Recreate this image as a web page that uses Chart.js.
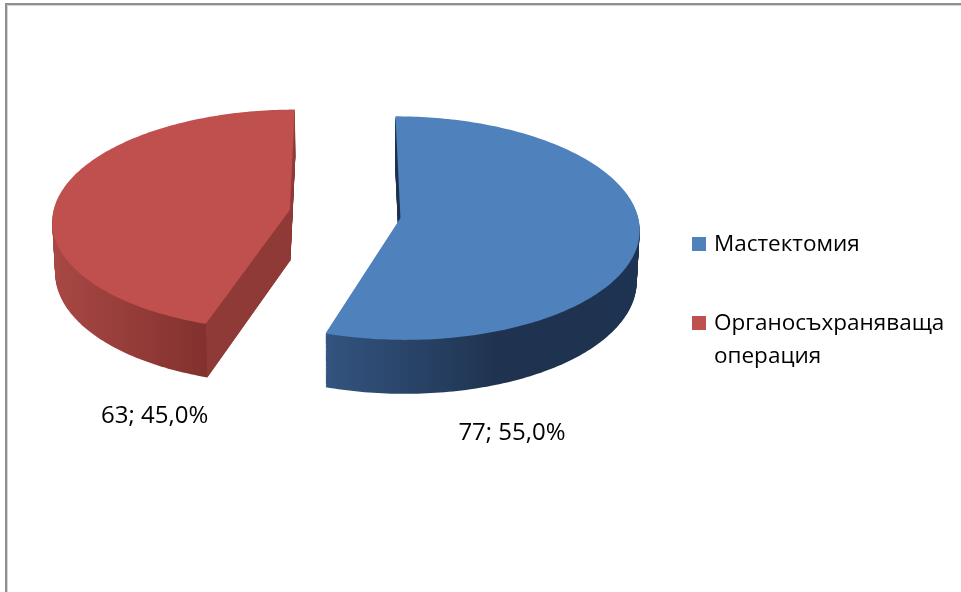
<!DOCTYPE html>
<html>
<head>
<meta charset="utf-8">
<script src="https://cdn.jsdelivr.net/npm/chart.js@4.4.1/dist/chart.umd.min.js"></script>
<style>
  html, body { margin: 0; padding: 0; background: #fff; overflow: hidden; }
  #frame {
    position: absolute; left: 5px; top: 3px; width: 2000px; height: 2000px;
    border-left: 2px solid #8f8f8f; border-top: 2px solid #8f8f8f;
    box-shadow: inset 1px 1px 0 #d4d4d4;
  }
  #wrap { position: absolute; left: 0; top: 0; width: 961px; height: 592px; }
</style>
</head>
<body>
<div id="frame"></div>
<div id="wrap"><canvas id="pieChart" width="961" height="592"></canvas></div>
<script>
// data
const categories = ['Мастектомия', 'Органосъхраняваща операция'];
const counts = [77, 63];

// look
const topColors = ['#4f81bd', '#c0504d'];
const wallColors = [
  [[0, '#33547f'], [0.55, '#1f3350'], [1, '#1e3351']],
  [[0, '#a94845'], [1, '#82312e']]
];
const faceColors = ['#1c304d', '#903a38'];

// fake 3d: the arcs chart.js lays out get tilted, exploded and extruded
const pie3d = {
  id: 'pie3d',
  beforeDatasetsDraw(chart, args, o) {
    const ctx = chart.ctx;
    const arcs = chart.getDatasetMeta(0).data;
    const k = o.tilt, D = o.depth, a = o.persp, b = o.sink;
    chart.$pie3d = [];

    arcs.forEach((el, i) => {
      const p = el.getProps(['x', 'y', 'startAngle', 'endAngle', 'outerRadius'], true);
      const r = p.outerRadius, s = p.startAngle, e = p.endAngle;
      const mid = (s + e) / 2;
      const au = Math.cos(mid) * o.explode, av = Math.sin(mid) * o.explode;
      // u,v = position in the pie plane, h = 0 top .. 1 bottom
      const proj = (u, v, h) => {
        const sc = (1 + a * v / r) * (1 - b * h);
        return [p.x + u * sc, p.y + (v * k + h * D) * sc];
      };
      const rim = (t, h) => proj(au + r * Math.cos(t), av + r * Math.sin(t), h);
      const n = Math.max(8, Math.ceil((e - s) / (Math.PI / 180)));
      const wedge = (h) => {
        ctx.beginPath();
        ctx.moveTo(...proj(au, av, h));
        for (let j = 0; j <= n; j++) ctx.lineTo(...rim(s + (e - s) * j / n, h));
        ctx.closePath();
      };
      chart.$pie3d.push({ wedge, rim });

      // side wall, colour runs left to right over the front rim
      let x0 = Infinity, x1 = -Infinity;
      for (let j = 0; j <= n; j++) {
        const t = s + (e - s) * j / n;
        if (Math.sin(t) < 0) continue;
        const x = rim(t, 0)[0];
        x0 = Math.min(x0, x); x1 = Math.max(x1, x);
      }
      if (x1 > x0) {
        const g = ctx.createLinearGradient(x0, 0, x1, 0);
        wallColors[i].forEach(([f, c]) => g.addColorStop(f, c));
        ctx.fillStyle = g;
        for (let l = D; l >= 1; l--) { wedge(l / D); ctx.fill(); }
      }

      // cut faces turned towards the viewer
      [[s, -1], [e, 1]].forEach(([t, sign]) => {
        const q = [proj(au, av, 0), rim(t, 0), rim(t, 1), proj(au, av, 1)];
        let area = 0;
        for (let j = 0; j < 4; j++) {
          const [xa, ya] = q[j], [xb, yb] = q[(j + 1) % 4];
          area += xa * yb - xb * ya;
        }
        if (area * sign <= 0) return;
        ctx.beginPath();
        q.forEach((pt, j) => j ? ctx.lineTo(...pt) : ctx.moveTo(...pt));
        ctx.closePath();
        ctx.fillStyle = faceColors[i];
        ctx.fill();
      });
    });

    // top faces
    chart.$pie3d.forEach((g, i) => {
      g.wedge(0);
      ctx.fillStyle = topColors[i];
      ctx.fill();
    });
    return false;
  },
  afterDraw(chart, args, o) {
    const ctx = chart.ctx;
    const data = chart.data.datasets[0].data;
    const total = data.reduce((x, y) => x + y, 0);
    ctx.save();
    ctx.fillStyle = '#000';

    // data labels under the slices
    ctx.font = o.labelFont;
    ctx.textAlign = 'center';
    ctx.textBaseline = 'alphabetic';
    data.forEach((v, i) => {
      const t = (o.labelAngles[i] - 90) * Math.PI / 180;
      const [x, y] = chart.$pie3d[i].rim(t, 1);
      const pct = (v / total * 100).toFixed(1).replace('.', ',');
      ctx.fillText(v + '; ' + pct + '%', x, y + o.labelGap);
    });

    // legend
    const L = o.legend;
    ctx.font = L.font;
    ctx.textAlign = 'left';
    let y = L.top;
    chart.data.labels.forEach((lab, i) => {
      const lines = [];
      let cur = '';
      lab.split(' ').forEach(w => {
        const test = cur ? cur + ' ' + w : w;
        if (cur && ctx.measureText(test).width > L.maxWidth) { lines.push(cur); cur = w; }
        else cur = test;
      });
      lines.push(cur);
      ctx.fillStyle = topColors[i];
      ctx.fillRect(L.x, y - L.box, L.box, L.box);
      ctx.fillStyle = '#000';
      lines.forEach((ln, j) => ctx.fillText(ln, L.x + L.textGap, y + j * L.lineHeight));
      y += lines.length * L.lineHeight + L.itemGap;
    });
    ctx.restore();
  }
};

new Chart(document.getElementById('pieChart'), {
  type: 'pie',
  data: {
    labels: categories,
    datasets: [{ data: counts, backgroundColor: topColors, borderWidth: 0 }]
  },
  options: {
    responsive: false,
    animation: false,
    radius: 237,
    layout: { padding: { left: 0, right: 271, top: 0, bottom: 164 } },
    plugins: {
      legend: { display: false },
      tooltip: { enabled: false },
      pie3d: {
        tilt: 0.4685,
        depth: 51,
        persp: 0.09,
        sink: 0.01,
        explode: 56,
        labelAngles: [155, 211.5],
        labelGap: 59,
        labelFont: '24px "Open Sans"',
        legend: { x: 692, top: 251, box: 14, textGap: 22, lineHeight: 33, itemGap: 46, maxWidth: 240, font: '22.5px "Open Sans"' }
      }
    }
  },
  plugins: [pie3d]
});
</script>
</body>
</html>
